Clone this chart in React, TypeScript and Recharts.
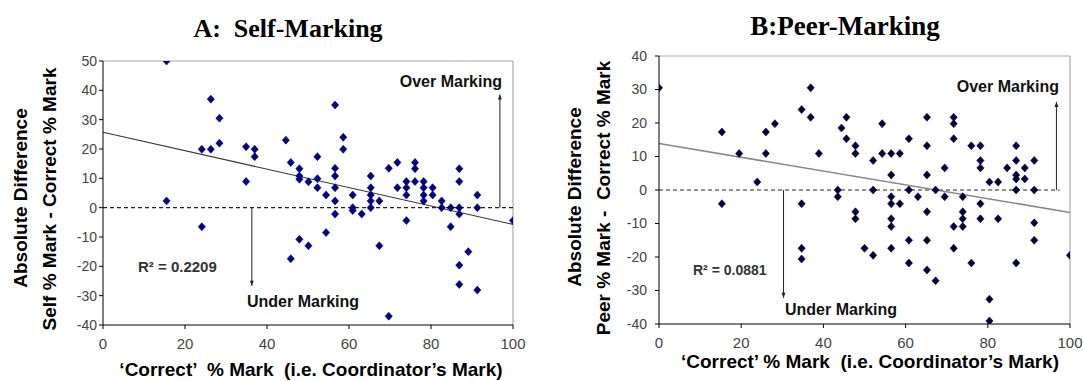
import React from 'react';
import { ScatterChart, Scatter, XAxis, YAxis, ReferenceLine } from 'recharts';

const ARIAL = '"Liberation Sans", Arial, sans-serif';
const TIMES = '"Liberation Serif", "Times New Roman", serif';

const xTicks = [0, 20, 40, 60, 80, 100];
const selfYTicks = [-40, -30, -20, -10, 0, 10, 20, 30, 40, 50];
const peerYTicks = [-40, -30, -20, -10, 0, 10, 20, 30, 40];

const selfMarking: [number, number][] = [
  [15.5, 50], [15.5, 2.3],
  [24.1, 19.9], [24.1, -6.5],
  [26.3, 37.0], [26.3, 19.9],
  [28.4, 30.5], [28.4, 22.0],
  [34.9, 20.8], [34.9, 8.9],
  [37.0, 19.9], [37.0, 17.4],
  [44.6, 23.0],
  [45.8, 15.4], [45.8, -17.4],
  [47.9, 13.3], [47.9, 10.8], [47.9, 9.7], [47.9, -10.8],
  [50.1, 8.8], [50.1, -13.0],
  [52.3, 17.4], [52.3, 9.9], [52.3, 6.8],
  [54.4, 4.3], [54.4, -8.5],
  [56.6, 35.0], [56.6, 13.4], [56.6, 10.8], [56.6, 6.8], [56.6, 2.3], [56.6, -2.2],
  [58.6, 24.0], [58.6, 19.9],
  [60.9, 4.3], [60.9, 0], [60.9, -1.0],
  [63.1, -2.2],
  [65.3, 10.8], [65.3, 6.8], [65.3, 4.3], [65.3, 2.3], [65.3, 0],
  [67.4, 2.3], [67.4, -13.0],
  [69.7, 13.4], [69.7, -37.0],
  [71.8, 15.4], [71.8, 6.8],
  [74.0, 8.9], [74.0, 6.8], [74.0, 4.3], [74.0, -4.4],
  [76.1, 15.4], [76.1, 13.3], [76.1, 8.9],
  [78.2, 8.9], [78.2, 6.8], [78.2, 4.3], [78.2, 2.3],
  [80.4, 6.8], [80.4, 4.3],
  [82.6, 2.3], [82.6, 0],
  [84.8, 0], [84.8, -6.5],
  [86.9, 13.3], [86.9, 8.9], [86.9, 0], [86.9, -2.2], [86.9, -19.6], [86.9, -26.2],
  [89.1, -15.0],
  [91.3, 4.3], [91.3, 0], [91.3, -28.1],
  [100, -4.4],
];

const peerMarking: [number, number][] = [
  [0, 30.5],
  [15.3, 17.3], [15.3, -4.1],
  [19.5, 10.9],
  [23.9, 2.4],
  [26.0, 17.3], [26.0, 10.9],
  [28.2, 19.8],
  [34.7, 24.0], [34.7, -4.1], [34.7, -17.4], [34.7, -20.6],
  [36.9, 30.5], [36.9, 21.7],
  [38.9, 10.9],
  [43.5, 0], [43.5, -2.0],
  [44.4, 18.5],
  [45.6, 21.7], [45.6, 15.3],
  [47.8, 13.2], [47.8, 10.9], [47.8, -6.5], [47.8, -8.6],
  [50.0, -17.4],
  [52.1, 8.8], [52.1, 0], [52.1, -19.5],
  [54.3, 19.8], [54.3, 10.9],
  [56.5, 10.9], [56.5, 4.5], [56.5, -2.0], [56.5, -4.1], [56.5, -8.6], [56.5, -10.9], [56.5, -17.4],
  [58.6, 10.9], [58.6, -4.1],
  [60.8, 15.3], [60.8, 0], [60.8, -15.0], [60.8, -21.8],
  [63.0, -2.0],
  [65.2, 21.7], [65.2, 13.2], [65.2, 4.5], [65.2, -6.5], [65.2, -15.0], [65.2, -23.9],
  [67.3, 0], [67.3, -27.1],
  [69.5, 6.6], [69.5, -2.0],
  [71.7, 21.7], [71.7, 19.8], [71.7, 15.3], [71.7, -10.9], [71.7, -17.4],
  [73.9, -2.0], [73.9, -6.5], [73.9, -8.6], [73.9, -10.9],
  [76.0, 13.2], [76.0, -21.8],
  [78.2, 13.2], [78.2, 8.8], [78.2, 6.6], [78.2, -4.1], [78.2, -8.6],
  [80.4, 2.4], [80.4, -32.6], [80.4, -39.1],
  [82.5, 2.4], [82.5, -8.6],
  [84.7, 6.6],
  [86.9, 13.2], [86.9, 8.8], [86.9, 4.5], [86.9, 3.3], [86.9, 0], [86.9, -21.8],
  [89.0, 6.6], [89.0, 3.3],
  [91.3, 8.8], [91.3, 0], [91.3, -9.8], [91.3, -15.0],
  [100, -19.5],
];

// regression lines: [value at x = 0, value at x = 100]
const selfTrend: [number, number] = [25.7, -5.7];
const peerTrend: [number, number] = [13.9, -6.7];

// annotation arrows: [x, y end]
const selfOverArrow: [number, number] = [96.8, 38.6];
const selfUnderArrow: [number, number] = [36.3, -26.6];
const peerOverArrow: [number, number] = [96.7, 26.3];
const peerUnderArrow: [number, number] = [30.3, -32.2];

const selfZeroEnd = 100;
const peerZeroEnd = 97.5;

const toPoints = (arr: [number, number][]) => arr.map(([x, y]) => ({ x, y }));

const diamond = (color: string) => (props: any) => {
  const { cx, cy } = props;
  if (cx == null || cy == null) return <g />;
  return (
    <polygon
      points={`${cx},${cy - 4} ${cx + 3.6},${cy} ${cx},${cy + 4} ${cx - 3.6},${cy}`}
      fill={color}
      stroke={color}
      strokeWidth={0.6}
    />
  );
};

const arrowShape = (props: any) => {
  const { x1, y1, x2, y2 } = props;
  if (x1 == null) return <g />;
  const dir = y2 < y1 ? -1 : 1;
  return (
    <g>
      <line x1={x1} y1={y1} x2={x2} y2={y2} stroke="#222" strokeWidth={1} />
      <polygon
        points={`${x2},${y2} ${x2 - 2},${y2 - dir * 5} ${x2 + 2},${y2 - dir * 5}`}
        fill="#222"
      />
    </g>
  );
};

type TxtProps = {
  x: number;
  y: number;
  size: number;
  anchor?: 'start' | 'middle' | 'end';
  family?: string;
  weight?: number | string;
  color?: string;
  rotate?: boolean;
  children: React.ReactNode;
};

const Txt = ({ x, y, size, anchor = 'middle', family = ARIAL, weight = 'bold', color = '#000', rotate = false, children }: TxtProps) => {
  const tx = anchor === 'start' ? '0%' : anchor === 'end' ? '-100%' : '-50%';
  return (
    <div
      style={{
        position: 'absolute',
        left: x,
        top: y,
        fontSize: size,
        lineHeight: `${size * 1.2}px`,
        fontFamily: family,
        fontWeight: weight as any,
        color,
        whiteSpace: 'pre',
        transform: `translate(${tx}, -50%)${rotate ? ' rotate(-90deg)' : ''}`,
        transformOrigin: rotate ? 'center center' : undefined,
      }}
    >
      {children}
    </div>
  );
};

type PanelProps = {
  width: number;
  margin: { top: number; right: number; bottom: number; left: number };
  data: [number, number][];
  yTicks: number[];
  yTickMargin: number;
  trend: [number, number];
  over: [number, number];
  under: [number, number];
  zeroEnd: number;
  color: string;
  trendColor: string;
  trendWidth: number;
};

const Panel = ({ width, margin, data, yTicks, yTickMargin, trend, over, under, zeroEnd, color, trendColor, trendWidth }: PanelProps) => {
  const yMin = yTicks[0];
  const yMax = yTicks[yTicks.length - 1];
  return (
    <ScatterChart width={width} height={381} margin={margin}>
      <XAxis
        dataKey="x"
        type="number"
        domain={[0, 100]}
        ticks={xTicks}
        tick={{ fill: '#444', fontSize: 15, fontFamily: ARIAL }}
        tickSize={4}
        tickMargin={9}
        height={30}
        axisLine={{ stroke: '#000' }}
        tickLine={{ stroke: '#000' }}
        allowDataOverflow
      />
      <YAxis
        dataKey="y"
        type="number"
        domain={[yMin, yMax]}
        ticks={yTicks}
        tick={{ fill: '#444', fontSize: 14, fontFamily: ARIAL }}
        tickSize={4}
        tickMargin={yTickMargin}
        width={40}
        axisLine={{ stroke: '#000' }}
        tickLine={{ stroke: '#000' }}
        allowDataOverflow
      />
      <ReferenceLine y={yMax} stroke="#aaa" strokeWidth={1.2} />
      <ReferenceLine x={100} stroke="#aaa" strokeWidth={1.2} />
      <ReferenceLine
        segment={[{ x: 0, y: 0 }, { x: zeroEnd, y: 0 }]}
        stroke="#222"
        strokeDasharray="4 3"
        strokeWidth={1.2}
      />
      <ReferenceLine
        segment={[{ x: 0, y: trend[0] }, { x: 100, y: trend[1] }]}
        stroke={trendColor}
        strokeWidth={trendWidth}
      />
      <ReferenceLine segment={[{ x: over[0], y: 0 }, { x: over[0], y: over[1] }]} shape={arrowShape} />
      <ReferenceLine segment={[{ x: under[0], y: 0 }, { x: under[0], y: under[1] }]} shape={arrowShape} />
      <Scatter data={toPoints(data)} shape={diamond(color)} isAnimationActive={false} />
    </ScatterChart>
  );
};

export default function App() {
  return (
    <div
      style={{
        position: 'absolute',
        left: 0,
        top: 0,
        width: 1083,
        height: 381,
        overflow: 'hidden',
        background: '#fff',
      }}
    >
      <div style={{ position: 'absolute', left: 0, top: 0 }}>
        <Panel
          width={540}
          margin={{ top: 61, right: 27, bottom: 26, left: 63 }}
          data={selfMarking}
          yTicks={selfYTicks}
          yTickMargin={2}
          trend={selfTrend}
          over={selfOverArrow}
          under={selfUnderArrow}
          zeroEnd={selfZeroEnd}
          color="#000080"
          trendColor="#333"
          trendWidth={1.1}
        />
      </div>
      <div style={{ position: 'absolute', left: 540, top: 0 }}>
        <Panel
          width={543}
          margin={{ top: 56, right: 13, bottom: 27, left: 79 }}
          data={peerMarking}
          yTicks={peerYTicks}
          yTickMargin={8}
          trend={peerTrend}
          over={peerOverArrow}
          under={peerUnderArrow}
          zeroEnd={peerZeroEnd}
          color="#00003a"
          trendColor="#888"
          trendWidth={1.6}
        />
      </div>

      {/* Left panel texts */}
      <Txt x={288} y={29} size={26} family={TIMES}>A:  Self-Marking</Txt>
      <Txt x={21} y={198} size={19} rotate>Absolute Difference</Txt>
      <Txt x={50} y={199} size={19} rotate>Self % Mark - Correct % Mark</Txt>
      <Txt x={311} y={370} size={19}>‘Correct’  % Mark  (i.e. Coordinator’s Mark)</Txt>
      <Txt x={502} y={82} size={16} anchor="end" color="#111">Over Marking</Txt>
      <Txt x={247} y={302} size={16} anchor="start" color="#111">Under Marking</Txt>
      <Txt x={138} y={267} size={15} anchor="start" color="#333">R² = 0.2209</Txt>

      {/* Right panel texts */}
      <Txt x={845} y={26} size={27} family={TIMES}>B:Peer-Marking</Txt>
      <Txt x={575} y={197} size={19} rotate>Absolute Difference</Txt>
      <Txt x={604} y={198} size={19} rotate>Peer % Mark -  Correct % Mark</Txt>
      <Txt x={870} y={362} size={19}>‘Correct’ % Mark  (i.e. Coordinator’s Mark)</Txt>
      <Txt x={1059} y={87} size={16} anchor="end" color="#111">Over Marking</Txt>
      <Txt x={785} y={310} size={16} anchor="start" color="#111">Under Marking</Txt>
      <Txt x={693} y={270} size={14} anchor="start" color="#333">R² = 0.0881</Txt>
    </div>
  );
}
